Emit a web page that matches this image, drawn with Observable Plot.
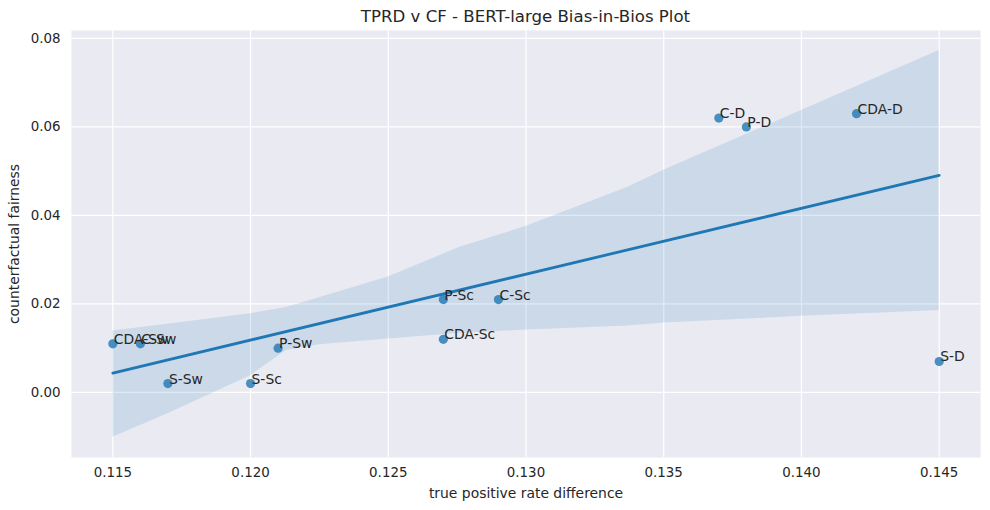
<!DOCTYPE html>
<html>
<head>
<meta charset="utf-8">
<script src="https://cdn.jsdelivr.net/npm/d3@7"></script>
<script src="https://cdn.jsdelivr.net/npm/@observablehq/plot@0.6"></script>
<style>
  html, body { margin: 0; padding: 0; background: #ffffff; }
  body { width: 990px; height: 510px; overflow: hidden; font-family: "DejaVu Sans", sans-serif; }
  #title { height: 30px; line-height: 34px; font-size: 16.6px; color: #262626; text-align: center; padding-left: 71px; padding-right: 10px; white-space: nowrap; }
  #chart svg { display: block; }
</style>
</head>
<body>
<div id="title">TPRD v CF - BERT-large Bias-in-Bios Plot</div>
<div id="chart"></div>
<script>
// Data points (labels, true positive rate difference, counterfactual fairness)
const labels = ["CDA-Sw", "C-Sw", "S-Sw", "S-Sc", "P-Sw", "P-Sc", "CDA-Sc", "C-Sc", "C-D", "P-D", "CDA-D", "S-D"];
const tprd = [0.115, 0.116, 0.117, 0.120, 0.121, 0.127, 0.127, 0.129, 0.137, 0.138, 0.142, 0.145];
const cf = [0.011, 0.011, 0.002, 0.002, 0.010, 0.021, 0.012, 0.021, 0.062, 0.060, 0.063, 0.007];

// Bootstrap confidence band
const bandX = [0.115, 0.117, 0.120, 0.1213, 0.1225, 0.125, 0.1276, 0.130, 0.1337, 0.135, 0.140, 0.145];
const bandUpper = [0.0139, 0.0154, 0.0178, 0.0192, 0.0214, 0.0261, 0.0328, 0.0375, 0.0464, 0.0502, 0.0637, 0.0773];
const bandLower = [-0.0101, -0.0048, 0.0038, 0.0095, 0.0108, 0.0121, 0.0134, 0.0141, 0.0150, 0.0157, 0.0172, 0.0185];

// Tick values
const xTicks = [0.115, 0.120, 0.125, 0.130, 0.135, 0.140, 0.145];
const yTicks = [0.00, 0.02, 0.04, 0.06, 0.08];

const points = labels.map((l, i) => ({label: l, x: tprd[i], y: cf[i]}));
const band = bandX.map((x, i) => ({x, lo: bandLower[i], hi: bandUpper[i]}));

const C0 = "#1f77b4";
const textColor = "#262626";

const chart = Plot.plot({
  width: 990,
  height: 480,
  marginLeft: 71,
  marginRight: 10,
  marginTop: 0,
  marginBottom: 53,
  style: {fontFamily: "DejaVu Sans, sans-serif", fontSize: "13.9px", color: textColor, background: "transparent"},
  x: {domain: [0.1135, 0.1465]},
  y: {domain: [-0.0147, 0.0818]},
  marks: [
    Plot.frame({fill: "#eaeaf2", stroke: null}),
    Plot.gridX(xTicks, {stroke: "#ffffff", strokeOpacity: 1, strokeWidth: 1.2}),
    Plot.gridY(yTicks, {stroke: "#ffffff", strokeOpacity: 1, strokeWidth: 1.2}),
    Plot.axisX(xTicks, {tickSize: 0, tickPadding: 10, tickFormat: d3.format(".3f"), fontSize: 13.4, fill: textColor, label: null}),
    Plot.axisX({tickSize: 0, ticks: [], fontSize: 13.9, fill: textColor,
      label: "true positive rate difference", labelAnchor: "center", labelArrow: "none", labelOffset: 40}),
    Plot.axisY(yTicks, {tickSize: 0, tickPadding: 11, tickFormat: d3.format(".2f"), fontSize: 13.4, fill: textColor, label: null}),
    Plot.axisY({tickSize: 0, ticks: [], fontSize: 13.9, fill: textColor,
      label: "counterfactual fairness", labelAnchor: "center", labelArrow: "none", labelOffset: 62}),
    Plot.areaY(band, {x: "x", y1: "lo", y2: "hi", fill: C0, fillOpacity: 0.15, curve: "linear"}),
    Plot.dot(points, {x: "x", y: "y", r: 4.6, fill: C0, fillOpacity: 0.8, stroke: null}),
    Plot.linearRegressionY(points, {x: "x", y: "y", stroke: C0, strokeWidth: 2.8, ci: 0}),
    Plot.text(points, {x: "x", y: "y", text: "label", textAnchor: "start", lineAnchor: "bottom", dx: 1, fontSize: 13.9, fill: textColor})
  ]
});
document.getElementById("chart").appendChild(chart);
</script>
</body>
</html>
